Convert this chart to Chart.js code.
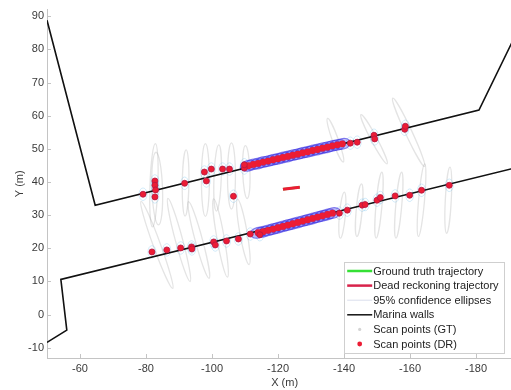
<!DOCTYPE html>
<html>
<head>
<meta charset="utf-8">
<script src="https://cdn.jsdelivr.net/npm/chart.js@4.4.1/dist/chart.umd.min.js"></script>
<style>
    html, body { margin: 0; padding: 0; overflow: hidden; background: #fff; }
    #contenedor { position: relative; width: 527px; height: 390px; }
</style>
</head>
<body>
<div id="contenedor"><canvas id="grafico-marina"></canvas></div>
<script>
'use strict';

// Muros de la marina (m)
const muroNorteX = [-50, -64.6, -180.9, -195];
const muroNorteY = [88.8, 33.0, 61.7, 90.5];
const muroSurX = [-50, -56.0, -54.2, -195];
const muroSurY = [-8.4, -4.7, 10.6, 45.0];

// Trayectorias del vehículo
const trayGTX = [-121.5, -124.0, -126.6];
const trayGTY = [37.8, 38.1, 38.4];
const trayDRX = [-121.5, -124.0, -126.6];
const trayDRY = [37.8, 38.1, 38.4];

// Puntos de escaneo sueltos (DR)
const scanDRX = [-79.1, -82.7, -82.7, -82.9, -82.7, -91.7, -97.7, -98.3, -99.8, -103.2, -105.3, -106.5, -109.8, -109.8,
                 -141.9, -144.0, -149.1, -149.3, -158.4, -158.6,
                 -81.8, -86.3, -90.5, -93.8, -93.9, -100.5, -101.0, -104.4, -108.0, -111.6, -114.5,
                 -138.6, -141.0, -145.5, -146.4, -150.0, -151.0, -155.5, -159.9, -163.5, -171.9];
const scanDRY = [36.3, 40.3, 39.0, 37.6, 35.5, 39.6, 43.0, 40.3, 43.9, 43.9, 43.9, 35.7, 44.2, 45.2,
                 51.7, 52.0, 54.1, 53.0, 55.9, 56.8,
                 18.9, 19.5, 20.1, 20.4, 19.8, 21.9, 21.0, 22.2, 22.8, 24.3, 24.1,
                 30.6, 31.5, 33.0, 33.2, 34.5, 35.3, 35.8, 36.0, 37.5, 39.0];

// Bandas densas de puntos de escaneo (DR) junto a los muros
const bandaNorteX = [-111.0, -112.5, -114.0, -115.5, -117.0, -118.5, -120.0, -121.5, -123.0, -124.5, -126.0,
                     -127.5, -129.0, -130.5, -132.0, -133.5, -135.0, -136.5, -138.0, -139.5];
const bandaNorteY = [44.9, 45.3, 45.6, 46.0, 46.3, 46.7, 47.0, 47.4, 47.7, 48.1, 48.4,
                     48.8, 49.1, 49.5, 49.8, 50.2, 50.5, 50.9, 51.2, 51.5];
const bandaSurX = [-114.0, -115.5, -117.0, -118.5, -120.0, -121.5, -123.0, -124.5, -126.0, -127.5, -129.0,
                   -130.5, -132.0, -133.5, -135.0, -136.5];
const bandaSurY = [24.7, 25.0, 25.4, 25.8, 26.2, 26.6, 27.0, 27.4, 27.8, 28.2, 28.6,
                   29.0, 29.4, 29.8, 30.2, 30.6];

// Puntos de escaneo (GT)
const scanGTX = [-82.5, -92.0, -98.0, -110.0, -150.5, -159.5];
const scanGTY = [38.0, 39.2, 41.0, 44.5, 34.9, 36.2];

// Elipses de confianza del 95 %: centro, semiejes (m) y giro (grados)
const elipseX = [-82.4, -83.4, -92.0, -98.0, -101.7, -105.9, -110.4,
                 -83.3, -90.0, -96.0, -102.6, -109.5,
                 -137.4, -149.1, -159.6,
                 -139.5, -144.6, -150.6, -156.6, -163.5, -171.6];
const elipseY = [39.0, 38.0, 39.7, 40.6, 41.2, 41.8, 43.0,
                 21.0, 22.5, 22.5, 23.1, 24.9,
                 52.6, 52.9, 55.0,
                 30.0, 31.5, 33.0, 33.0, 34.5, 34.5];
const elipseA = [12.6, 11.0, 10.0, 11.0, 10.0, 10.0, 8.0,
                 14.0, 13.0, 12.0, 12.0, 10.0,
                 7.0, 8.4, 11.4,
                 7.0, 8.0, 10.0, 10.0, 11.0, 10.0];
const elipseB = [1.2, 1.6, 1.0, 1.2, 1.1, 1.2, 1.1,
                 1.1, 1.1, 1.1, 1.1, 1.1,
                 0.9, 0.9, 1.0,
                 0.9, 0.9, 0.9, 0.9, 0.9, 0.9];
const elipseAng = [92, 88, 91, 90, 92, 90, 88,
                   70, 75, 75, 80, 80,
                   70, 62, 65,
                   95, 95, 95, 95, 95, 93];

// Semiejes de las elipses pequeñas en las bandas densas (m)
const elipseBandaA = 2.5;
const elipseBandaB = 1.6;

const ticksX = [-180, -160, -140, -120, -100, -80, -60];
const ticksY = [-10, 0, 10, 20, 30, 40, 50, 60, 70, 80, 90];

const COLOR_GT = '#35e035';
const COLOR_DR = '#ec1c34';
const COLOR_MURO = '#111111';
const COLOR_EJE = '#c4c4c4';
const COLOR_TEXTO = '#3a3a3a';
const FUENTE = 'Arial, "Liberation Sans", Helvetica, sans-serif';

const pares = (xs, ys) => xs.map((x, i) => ({ x: x, y: ys[i] }));

/**
 * Dibuja las elipses de confianza usando las escalas del gráfico.
 */
const pluginElipses = {
    id: 'elipses',
    beforeDatasetsDraw(chart) {
        const { ctx, chartArea, scales: { x, y } } = chart;
        const kx = Math.abs(x.getPixelForValue(1) - x.getPixelForValue(0));
        const ky = Math.abs(y.getPixelForValue(1) - y.getPixelForValue(0));
        const k = (kx + ky) / 2;
        const angBanda = -Math.atan2(ky * 0.25, kx);

        ctx.save();
        ctx.beginPath();
        ctx.rect(chartArea.left, chartArea.top, chartArea.right - chartArea.left, chartArea.bottom - chartArea.top);
        ctx.clip();

        // elipses grandes (grises)
        ctx.lineWidth = 1.3;
        ctx.strokeStyle = 'rgba(120, 120, 120, 0.2)';
        elipseX.forEach((cx, i) => {
            ctx.beginPath();
            ctx.ellipse(x.getPixelForValue(cx), y.getPixelForValue(elipseY[i]),
                elipseA[i] * k, elipseB[i] * k, elipseAng[i] * Math.PI / 180, 0, 2 * Math.PI);
            ctx.stroke();
        });

        // elipses pequeñas alrededor de los puntos sueltos
        ctx.lineWidth = 1;
        ctx.strokeStyle = 'rgba(60, 170, 230, 0.22)';
        scanDRX.forEach((cx, i) => {
            ctx.beginPath();
            ctx.ellipse(x.getPixelForValue(cx), y.getPixelForValue(scanDRY[i]),
                1.2 * k, 1.9 * k, 0, 0, 2 * Math.PI);
            ctx.stroke();
        });

        // elipses azules de las bandas densas
        ctx.lineWidth = 1.2;
        ctx.strokeStyle = 'rgba(50, 40, 225, 0.55)';
        ctx.fillStyle = 'rgba(70, 60, 225, 0.3)';
        [[bandaNorteX, bandaNorteY], [bandaSurX, bandaSurY]].forEach(([bx, by]) => {
            bx.forEach((cx, i) => {
                ctx.beginPath();
                ctx.ellipse(x.getPixelForValue(cx), y.getPixelForValue(by[i]),
                    elipseBandaA * k, elipseBandaB * k, angBanda, 0, 2 * Math.PI);
                ctx.fill();
                ctx.stroke();
            });
        });
        ctx.restore();
    }
};

/**
 * Marcas de los ejes hacia dentro.
 */
const pluginMarcas = {
    id: 'marcas',
    afterDraw(chart) {
        const { ctx, chartArea, scales: { x, y } } = chart;
        ctx.save();
        ctx.strokeStyle = COLOR_EJE;
        ctx.lineWidth = 1;
        ctx.beginPath();
        ticksX.forEach(v => {
            const px = Math.round(x.getPixelForValue(v)) + 0.5;
            ctx.moveTo(px, chartArea.bottom);
            ctx.lineTo(px, chartArea.bottom - 4);
        });
        ticksY.forEach(v => {
            const py = Math.round(y.getPixelForValue(v)) + 0.5;
            ctx.moveTo(chartArea.left, py);
            ctx.lineTo(chartArea.left + 4, py);
        });
        ctx.stroke();
        ctx.restore();
    }
};

/**
 * Leyenda en la esquina inferior derecha.
 */
const itemsLeyenda = [
    { texto: 'Ground truth trajectory', tipo: 'linea', color: COLOR_GT, ancho: 2.5 },
    { texto: 'Dead reckoning trajectory', tipo: 'linea', color: '#d8224a', ancho: 2.5 },
    { texto: '95% confidence ellipses', tipo: 'linea', color: 'rgba(150, 160, 200, 0.35)', ancho: 1 },
    { texto: 'Marina walls', tipo: 'linea', color: COLOR_MURO, ancho: 1.5 },
    { texto: 'Scan points (GT)', tipo: 'punto', color: '#d4d4d4', radio: 1.6 },
    { texto: 'Scan points (DR)', tipo: 'punto', color: COLOR_DR, radio: 2.4 }
];

const pluginLeyenda = {
    id: 'leyenda',
    afterDraw(chart) {
        const { ctx, chartArea } = chart;
        const der = chartArea.right - 18;
        const inf = chartArea.bottom - 5;
        const ancho = 160;
        const alto = 91;
        const izq = der - ancho;
        const sup = inf - alto;

        ctx.save();
        ctx.fillStyle = '#ffffff';
        ctx.fillRect(izq, sup, ancho, alto);
        ctx.strokeStyle = '#cfcfcf';
        ctx.lineWidth = 1;
        ctx.strokeRect(Math.round(izq) + 0.5, Math.round(sup) + 0.5, ancho, alto);

        ctx.font = '11px ' + FUENTE;
        ctx.textBaseline = 'middle';
        ctx.textAlign = 'left';
        itemsLeyenda.forEach((item, i) => {
            const yc = sup + 9 + i * 14.6;
            if (item.tipo === 'linea') {
                ctx.strokeStyle = item.color;
                ctx.lineWidth = item.ancho;
                ctx.beginPath();
                ctx.moveTo(izq + 3, yc);
                ctx.lineTo(izq + 28, yc);
                ctx.stroke();
            } else {
                ctx.fillStyle = item.color;
                ctx.beginPath();
                ctx.arc(izq + 15.5, yc, item.radio, 0, 2 * Math.PI);
                ctx.fill();
            }
            ctx.fillStyle = '#222222';
            ctx.fillText(item.texto, izq + 29, yc + 0.5);
        });
        ctx.restore();
    }
};

const puntosDR = {
    type: 'scatter',
    showLine: false,
    pointStyle: 'circle',
    pointRadius: 3,
    pointBackgroundColor: COLOR_DR,
    pointBorderColor: '#b01845',
    pointBorderWidth: 0.8
};

const datasets = [
    {
        label: 'Dead reckoning trajectory',
        data: pares(trayDRX, trayDRY),
        showLine: true, borderColor: COLOR_DR, borderWidth: 3, pointRadius: 0, order: 0
    },
    {
        label: 'Ground truth trajectory',
        data: pares(trayGTX, trayGTY),
        showLine: true, borderColor: COLOR_GT, borderWidth: 2.5, pointRadius: 0, order: 1
    },
    Object.assign({ label: 'Scan points (DR)', data: pares(scanDRX, scanDRY), order: 2 }, puntosDR),
    Object.assign({ label: 'Scan points (DR)', data: pares(bandaNorteX, bandaNorteY), order: 2 }, puntosDR, { pointBorderWidth: 0, pointRadius: 3.4 }),
    Object.assign({ label: 'Scan points (DR)', data: pares(bandaSurX, bandaSurY), order: 2 }, puntosDR, { pointBorderWidth: 0, pointRadius: 3.4 }),
    {
        label: 'Scan points (GT)',
        data: pares(scanGTX, scanGTY),
        pointRadius: 1.5, pointBackgroundColor: '#d4d4d4', pointBorderWidth: 0, order: 3
    },
    {
        label: 'Marina walls',
        data: pares(muroNorteX, muroNorteY),
        showLine: true, borderColor: COLOR_MURO, borderWidth: 1.6, pointRadius: 0, order: 4
    },
    {
        label: 'Marina walls',
        data: pares(muroSurX, muroSurY),
        showLine: true, borderColor: COLOR_MURO, borderWidth: 1.6, pointRadius: 0, order: 4
    }
];

new Chart(document.getElementById('grafico-marina'), {
    type: 'scatter',
    data: { datasets: datasets },
    options: {
        responsive: true,
        maintainAspectRatio: false,
        animation: false,
        layout: { padding: { top: 9.4, right: 0, left: 0, bottom: 0 } },
        plugins: {
            legend: { display: false },
            tooltip: { enabled: false }
        },
        scales: {
            x: {
                type: 'linear',
                reverse: true,
                min: -194,
                max: -50,
                afterBuildTicks: s => { s.ticks = ticksX.map(v => ({ value: v })); },
                afterFit: s => { s.height = 32; },
                grid: { display: false, drawTicks: false },
                border: { display: true, color: COLOR_EJE, width: 1 },
                ticks: { color: COLOR_TEXTO, font: { family: FUENTE, size: 11 }, padding: 4, maxRotation: 0, autoSkip: false },
                title: { display: true, text: 'X (m)', color: COLOR_TEXTO, font: { family: FUENTE, size: 11 }, padding: { top: 0, bottom: 0 } }
            },
            y: {
                type: 'linear',
                min: -13.1,
                max: 92,
                afterBuildTicks: s => { s.ticks = ticksY.map(v => ({ value: v })); },
                afterFit: s => { s.width = 47; },
                grid: { display: false, drawTicks: false },
                border: { display: true, color: COLOR_EJE, width: 1 },
                ticks: { color: COLOR_TEXTO, font: { family: FUENTE, size: 11 }, padding: 3 },
                title: { display: true, text: 'Y (m)', color: COLOR_TEXTO, font: { family: FUENTE, size: 11 }, padding: { top: 13, bottom: 0 } }
            }
        }
    },
    plugins: [pluginElipses, pluginMarcas, pluginLeyenda]
});
</script>
</body>
</html>
